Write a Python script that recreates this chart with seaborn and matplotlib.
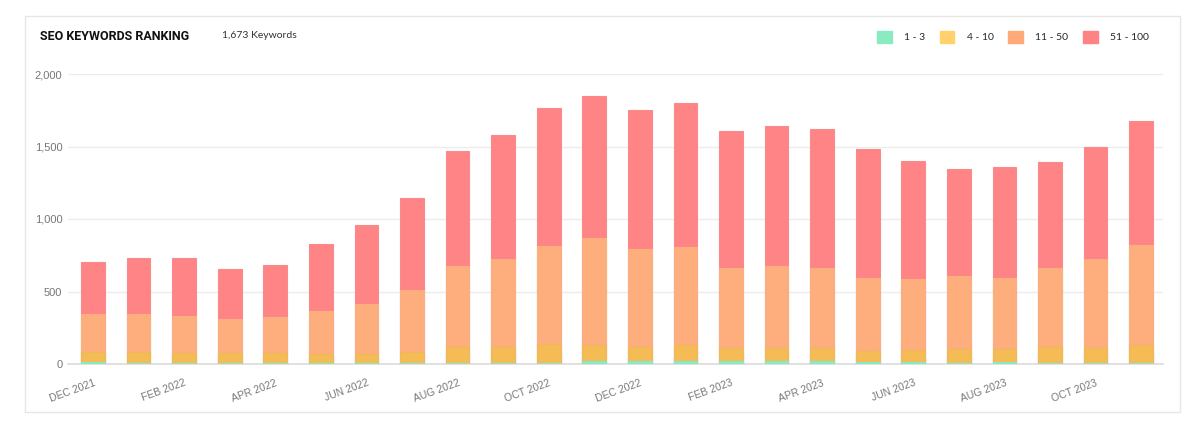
import numpy as np
import pandas as pd
import seaborn as sns
import matplotlib.pyplot as plt
from matplotlib.patches import Patch, Rectangle

months = ['DEC 2021', 'JAN 2022', 'FEB 2022', 'MAR 2022', 'APR 2022', 'MAY 2022',
          'JUN 2022', 'JUL 2022', 'AUG 2022', 'SEP 2022', 'OCT 2022', 'NOV 2022',
          'DEC 2022', 'JAN 2023', 'FEB 2023', 'MAR 2023', 'APR 2023', 'MAY 2023',
          'JUN 2023', 'JUL 2023', 'AUG 2023', 'SEP 2023', 'OCT 2023', 'NOV 2023']

rank_1_3 = [16, 7, 7, 9, 7, 7, 7, 7, 7, 7, 10, 18, 18, 20, 18, 20, 20, 14, 16, 10, 12, 7, 7, 10]
rank_4_10 = [67, 78, 71, 67, 67, 60, 60, 78, 108, 113, 128, 113, 99, 109, 90, 88, 88, 78, 81, 91,
             89, 108, 101, 119]
rank_11_50 = [260, 258, 255, 234, 248, 301, 344, 425, 563, 606, 674, 736, 676, 676, 556, 566, 556,
              501, 492, 508, 492, 547, 618, 694]
rank_51_100 = [358, 386, 396, 345, 361, 457, 545, 635, 793, 853, 951, 984, 957, 995, 943, 967, 959,
               890, 809, 738, 763, 729, 773, 850]

series_labels = ['1 - 3', '4 - 10', '11 - 50', '51 - 100']
bar_colors = ['#86EBC3', '#F5BB55', '#FEAD7C', '#FF8486']
legend_colors = ['#8AEBC1', '#FFD26E', '#FFAA78', '#FF8285']

sns.set_theme(style='white')
plt.rcParams['font.family'] = ['Liberation Sans', 'DejaVu Sans']

df = pd.DataFrame({'month': months, '1 - 3': rank_1_3, '4 - 10': rank_4_10,
                   '11 - 50': rank_11_50, '51 - 100': rank_51_100})
cum = df[series_labels].cumsum(axis=1)

fig = plt.figure(figsize=(12, 4.28), dpi=100)
fig.patches.append(Rectangle((25 / 1200, 16 / 428), 1155 / 1200, 396 / 428,
                             transform=fig.transFigure, facecolor='none',
                             edgecolor='#e6e6e6', linewidth=1, zorder=-1))
ax = fig.add_axes([68 / 1200, 64 / 428, 1095 / 1200, 290 / 428])

# stacked bars: draw cumulative layers from the top down
for label, color in zip(series_labels[::-1], bar_colors[::-1]):
    sns.barplot(x=df['month'], y=cum[label], color=color, width=0.52,
                saturation=1, ax=ax, zorder=3, linewidth=0.8,
                edgecolor=sns.desaturate(color, 0.9))

ax.set_ylim(0, 2000)
ax.set_xlim(-0.55, 23.48)
ax.set_yticks([0, 500, 1000, 1500, 2000])
ax.set_yticklabels(['0', '500', '1,000', '1,500', '2,000'], color='#777777', fontsize=8)
ax.set_xticks(range(0, 24, 2))
ax.set_xticklabels(months[::2], rotation=20, ha='right', rotation_mode='anchor',
                   color='#777777', fontsize=7.5)
ax.tick_params(axis='y', length=0, pad=4)
ax.tick_params(axis='x', length=0, pad=10)
ax.grid(axis='y', color='#ececec', linewidth=1, zorder=0)
ax.set_xlabel('')
ax.set_ylabel('')
for side in ['top', 'right', 'left']:
    ax.spines[side].set_visible(False)
ax.spines['bottom'].set_color('#dddddd')
ax.set_facecolor('none')

fig.text(40 / 1200, 1 - 36 / 428, 'SEO KEYWORDS RANKING', fontsize=9, fontweight='bold',
         family=['Roboto', 'DejaVu Sans'], color='#111111', va='center')
fig.text(222 / 1200, 1 - 36 / 428, '1,673 Keywords', fontsize=7.5,
         family=['Lato', 'DejaVu Sans'], color='#333333', va='center')

handles = [Patch(facecolor=c, edgecolor=c) for c in legend_colors]
fig.legend(handles, series_labels, loc='center right', bbox_to_anchor=(1149 / 1200, 1 - 37 / 428),
           ncol=4, frameon=False, handlelength=1.4, handleheight=1.4, handletextpad=1.2,
           columnspacing=1.4, borderaxespad=0, borderpad=0,
           prop={'family': ['Lato', 'DejaVu Sans'], 'size': 7.5})

fig.savefig('out.png', dpi=100, facecolor='white')
